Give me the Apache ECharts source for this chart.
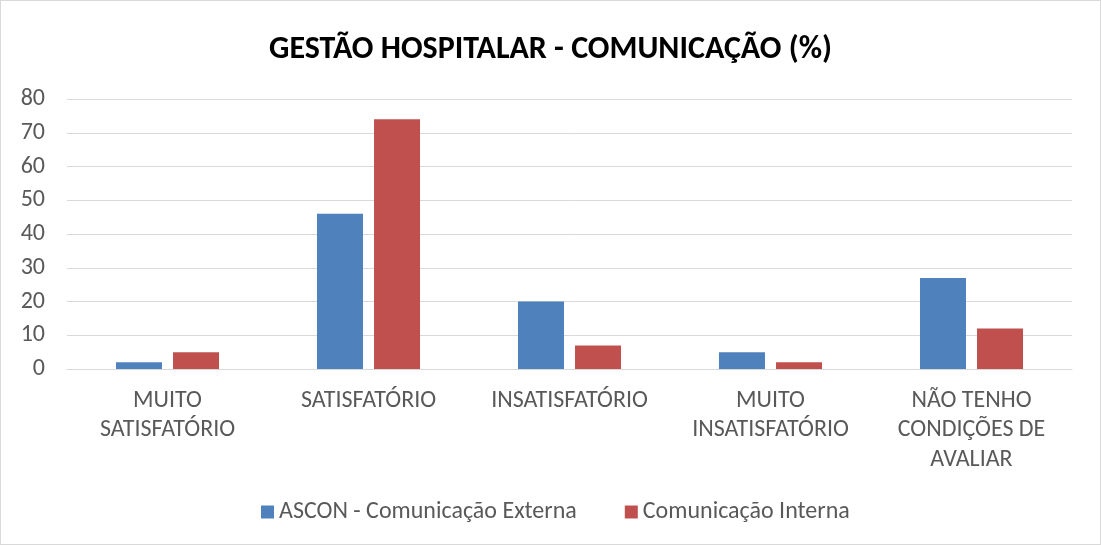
<!DOCTYPE html>
<html>
<head>
<meta charset="utf-8">
<script src="https://cdn.jsdelivr.net/npm/echarts@6/dist/echarts.min.js"></script>
<style>
  html, body { margin: 0; padding: 0; background: #fff; }
  #chart { width: 1099px; height: 543px; border: 1px solid #d9d9d9; }
</style>
</head>
<body>
<div id="chart"></div>
<script>
// categorias do eixo x
var categories = [
  'MUITO\nSATISFATÓRIO',
  'SATISFATÓRIO',
  'INSATISFATÓRIO',
  'MUITO\nINSATISFATÓRIO',
  'NÃO TENHO\nCONDIÇÕES DE\nAVALIAR'
];
var seriesNames = ['ASCON - Comunicação Externa', 'Comunicação Interna'];
var externa = [2, 46, 20, 5, 27];
var interna = [5, 74, 7, 2, 12];

var chart = echarts.init(document.getElementById('chart'));
var font = 'Carlito, "Open Sans", "Liberation Sans", sans-serif';

var option = {
  animation: false,
  title: {
    text: 'GESTÃO HOSPITALAR - COMUNICAÇÃO (%)',
    left: 'center',
    top: 28,
    textStyle: { fontFamily: font, fontSize: 32, fontWeight: 'bold', color: '#000' }
  },
  legend: {
    bottom: 15,
    left: 255,
    itemGap: 48,
    icon: 'rect',
    itemWidth: 13,
    itemHeight: 13,
    textStyle: { fontFamily: font, fontSize: 24, color: '#595959' },
    data: seriesNames
  },
  grid: { left: 66, right: 28, top: 98, bottom: 175, containLabel: false },
  xAxis: {
    type: 'category',
    data: categories,
    axisTick: { show: false },
    axisLine: { lineStyle: { color: '#d9d9d9' } },
    axisLabel: { fontFamily: font, fontSize: 24, color: '#595959', lineHeight: 29.5, margin: 17, interval: 0 }
  },
  yAxis: {
    type: 'value',
    min: 0,
    max: 80,
    interval: 10,
    axisLine: { show: false },
    axisTick: { show: false },
    splitLine: { lineStyle: { color: '#d9d9d9' } },
    axisLabel: { fontFamily: font, fontSize: 24, color: '#595959', margin: 22 }
  },
  series: [
    {
      name: seriesNames[0],
      type: 'bar',
      data: externa,
      barWidth: 46,
      barGap: '24%',
      itemStyle: { color: '#4f81bd' }
    },
    {
      name: seriesNames[1],
      type: 'bar',
      data: interna,
      barWidth: 46,
      itemStyle: { color: '#c0504d' }
    }
  ]
};
chart.setOption(option);
</script>
</body>
</html>
